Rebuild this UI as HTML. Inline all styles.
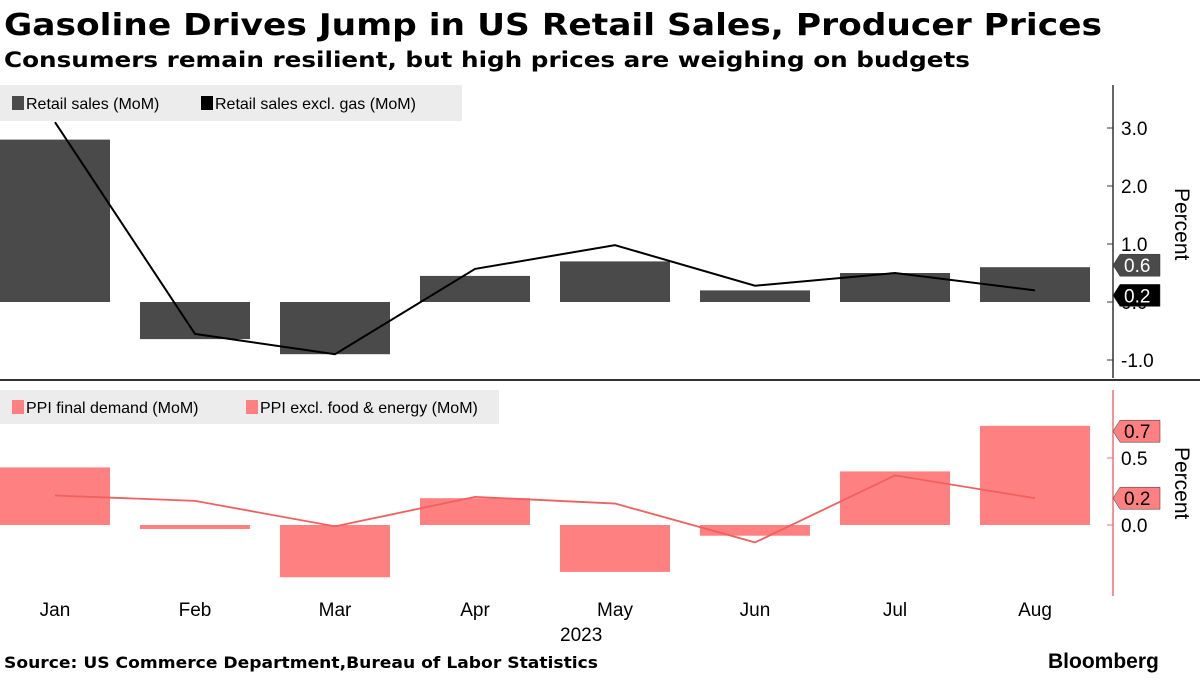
<!DOCTYPE html>
<html><head><meta charset="utf-8"><style>
body{margin:0;width:1200px;height:675px;background:#fff;font-family:"Liberation Sans",sans-serif;overflow:hidden}
svg text{font-family:"Liberation Sans",sans-serif}
svg text.dv{font-family:"DejaVu Sans","Liberation Sans",sans-serif}
</style></head><body>
<svg id="c" width="1200" height="675">
<text class="dv" x="4" y="35" font-size="30" font-weight="bold" fill="#000" textLength="1098" lengthAdjust="spacingAndGlyphs">Gasoline Drives Jump in US Retail Sales, Producer Prices</text>
<text class="dv" x="4" y="67" font-size="21" font-weight="bold" fill="#000" textLength="966" lengthAdjust="spacingAndGlyphs">Consumers remain resilient, but high prices are weighing on budgets</text>
<g id="gtop"></g><g id="gbot"></g>
<line x1="0" y1="380" x2="1200" y2="380" stroke="#333" stroke-width="2"/>
<text x="560" y="641" font-size="19" fill="#000">2023</text>
<text class="dv" x="4" y="668" font-size="16" font-weight="bold" fill="#000" textLength="594" lengthAdjust="spacingAndGlyphs">Source: US Commerce Department,Bureau of Labor Statistics</text>
<text x="1048" y="668" font-size="21" font-weight="bold" fill="#000">Bloomberg</text>
</svg>
<script>
const months=["Jan","Feb","Mar","Apr","May","Jun","Jul","Aug"];
const retail=[2.8,-0.64,-0.9,0.45,0.7,0.2,0.5,0.6];
const retailExGas=[3.1,-0.55,-0.9,0.57,0.98,0.28,0.5,0.2];
const ppi=[0.43,-0.03,-0.39,0.2,-0.35,-0.08,0.4,0.74];
const ppiCore=[0.22,0.18,-0.01,0.21,0.16,-0.13,0.37,0.2];
const topTicks=[3,2,1,0,-1];
const botTicks=[0.5,0];
const NS="http://www.w3.org/2000/svg";
function mk(p,t,a,txt){const e=document.createElementNS(NS,t);for(const k in a)e.setAttribute(k,a[k]);if(txt!=null)e.textContent=txt;p.appendChild(e);return e;}
const xc=i=>55+140*i;
const yT=v=>302-58*v;
const yB=v=>525-134*v;
const gTop=document.getElementById('gtop'),gBot=document.getElementById('gbot');
let l=mk(gTop,'line',{x1:1113,y1:85,x2:1113,y2:378,stroke:'#333','stroke-width':1.5});


topTicks.forEach(t=>{
 let tk=mk(gTop,'line',{x1:1107,x2:1113,y1:yT(t),y2:yT(t),stroke:'#333'});
 
 
 let tx=mk(gTop,'text',{x:1121,y:yT(t)+7,'font-size':19,fill:'#000'},t.toFixed(1));
 
 
});
retail.forEach((v,i)=>{
 let r=mk(gTop,'rect',{x:xc(i)-55,width:110,y:Math.min(yT(v),yT(0)),height:Math.abs(yT(v)-yT(0)),fill:'#4a4a4a'});
 
 
});
let p=mk(gTop,'polyline',{points:retailExGas.map((v,i)=>xc(i)+','+yT(v)).join(' '),fill:'none',stroke:'#000','stroke-width':2});


let tt=mk(gTop,'text',{x:1175,y:188,'font-size':21,fill:'#000',transform:'rotate(90 1175 188)'},'Percent');


function tag(g,v,y,bg,fg,name){
 let t=mk(g,'polygon',{points:`1113,${y} 1120,${y-11} 1160,${y-11} 1160,${y+11} 1120,${y+11}`,fill:bg,stroke:'#333','stroke-width':0.5});
 
 
 let tx=mk(g,'text',{x:1124,y:y+7,'font-size':19,fill:fg},v.toFixed(1));
 
 
}
tag(gTop,retail[7],yT(retail[7])-2,'#4a4a4a','#fff','retail-last-value');
tag(gTop,retailExGas[7],yT(retailExGas[7])+5,'#000','#fff','retail-ex-gas-last-value');
let lg=mk(gTop,'rect',{x:0,y:85,width:462,height:36,fill:'#ececec'});


[[12,'#4a4a4a','Retail sales (MoM)'],[201,'#000','Retail sales excl. gas (MoM)']].forEach(([x,c,s])=>{
 let sw=mk(gTop,'rect',{x:x,y:96,width:12,height:14,fill:c});
 
 
 let tx=mk(gTop,'text',{x:x+14,y:109,'font-size':16,fill:'#000'},s);
 
 
});
l=mk(gBot,'line',{x1:1113,y1:390,x2:1113,y2:596,stroke:'#f07070','stroke-width':1.5});


botTicks.forEach(t=>{
 let tk=mk(gBot,'line',{x1:1107,x2:1113,y1:yB(t),y2:yB(t),stroke:'#f07070'});
 
 
 let tx=mk(gBot,'text',{x:1121,y:yB(t)+7,'font-size':19,fill:'#000'},t.toFixed(1));
 
 
});
ppi.forEach((v,i)=>{
 let r=mk(gBot,'rect',{x:xc(i)-55,width:110,y:Math.min(yB(v),yB(0)),height:Math.max(2,Math.abs(yB(v)-yB(0))),fill:'#ff8080'});
 
 
});
p=mk(gBot,'polyline',{points:ppiCore.map((v,i)=>xc(i)+','+yB(v)).join(' '),fill:'none',stroke:'#f06060','stroke-width':1.8});


tt=mk(gBot,'text',{x:1175,y:447,'font-size':21,fill:'#000',transform:'rotate(90 1175 447)'},'Percent');


tag(gBot,ppi[7],yB(0.7),'#ff8080','#000','ppi-last-value');
tag(gBot,ppiCore[7],yB(ppiCore[7]),'#ff8080','#000','ppi-core-last-value');
lg=mk(gBot,'rect',{x:0,y:390,width:499,height:34,fill:'#ececec'});


[[12,'PPI final demand (MoM)'],[246,'PPI excl. food & energy (MoM)']].forEach(([x,s])=>{
 let sw=mk(gBot,'rect',{x:x,y:400,width:12,height:14,fill:'#ff8080'});
 
 
 let tx=mk(gBot,'text',{x:x+14,y:413,'font-size':16,fill:'#000'},s);
 
 
});
months.forEach((m,i)=>{
 let tx=mk(gBot,'text',{x:xc(i),y:616,'font-size':19,fill:'#000','text-anchor':'middle'},m);
 
 
});
</script>
</body></html>
